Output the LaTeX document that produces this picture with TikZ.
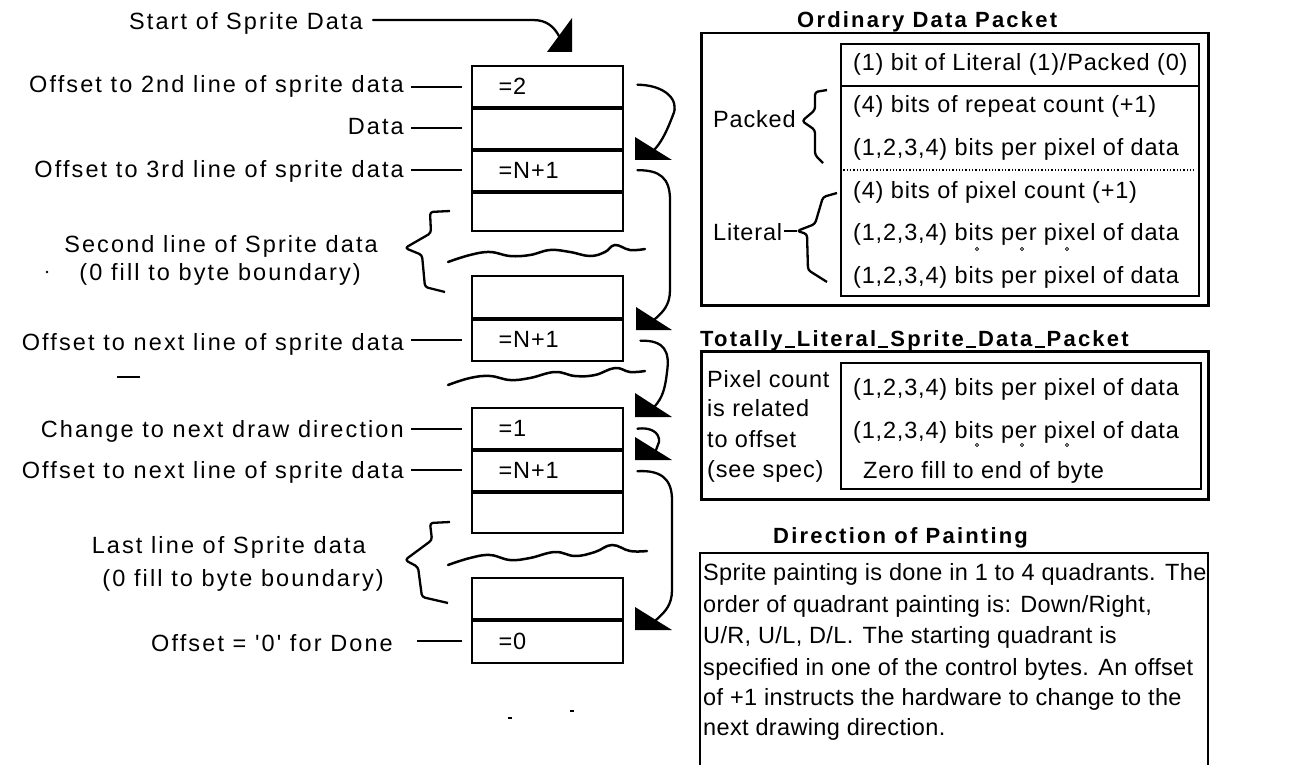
\documentclass[tikz,border=0pt]{standalone}
\usepackage{fontspec}
\setmainfont{Liberation Sans}
\newfontfamily\lblfont[LetterSpace=9]{Liberation Sans}
\newfontfamily\rfont[LetterSpace=3.5]{Liberation Sans}
\newfontfamily\dfont[LetterSpace=1.5]{Liberation Sans}
\newfontfamily\hfont[LetterSpace=10]{Liberation Sans}
\newcommand\ugap{\hspace{0.1em}\rule[-1.5pt]{0.45em}{1.4pt}\hspace{0.1em}}
\begin{document}
\begin{tikzpicture}[x=1pt,y=-1pt,
  lbl/.style={anchor=base east, inner sep=0pt, font=\lblfont\fontsize{23.5}{28}\selectfont},
  rtxt/.style={anchor=base west, inner sep=0pt, font=\rfont\fontsize{23.5}{28}\selectfont},
  dtxt/.style={anchor=base west, inner sep=0pt, font=\dfont\fontsize{23.5}{28}\selectfont},
  head/.style={anchor=base west, inner sep=0pt, font=\hfont\bfseries\fontsize{22}{26}\selectfont},
  cell/.style={draw, line width=2.4pt, minimum width=151pt, anchor=north west, inner sep=0pt,
     text width=98pt, align=left, font=\rfont\fontsize{23.5}{28}\selectfont},
  sepline/.style={line width=4pt},
  conn/.style={line width=2.3pt, line cap=round, line join=round},
  lead/.style={line width=2.3pt, shorten <=7pt, shorten >=9pt},
  brace/.style={line width=2.3pt, rounded corners=3pt, line join=round},
  wave/.style={line width=2.5pt, line cap=round},
  tip/.style={fill=black},
  frame/.style={draw, line width=2.5pt, anchor=north west, inner sep=0pt}
]
\useasboundingbox (0,0) rectangle (1301,765);

% ---------- left column cells ----------
\node[cell, minimum height=41pt] (r1) at (471,65) {=2};
\node[cell, minimum height=42pt] (r2) at (471,106) {};
\node[cell, minimum height=42pt] (r3) at (471,148) {=N+1};
\node[cell, minimum height=40pt] (r4) at (471,190) {};
\node[cell, minimum height=42pt] (r5) at (471,275) {};
\node[cell, minimum height=43pt] (r6) at (471,317) {=N+1};
\node[cell, minimum height=41pt] (r7) at (471,407) {=1};
\node[cell, minimum height=42pt] (r8) at (471,448) {=N+1};
\node[cell, minimum height=42pt] (r9) at (471,490) {};
\node[cell, minimum height=41pt] (r10) at (471,577) {};
\node[cell, minimum height=44pt] (r11) at (471,618) {=0};
\foreach \r in {r1,r2,r3,r5,r7,r8,r10}
  \draw[sepline] (\r.south west) -- (\r.south east);

% ---------- left labels ----------
\node[lbl] (lab0) at (363,30) {Start of Sprite Data};
\node[lbl] (lab1) at (404,93) {Offset to 2nd line of sprite data};
\node[lbl] (lab2) at (404,135) {Data};
\node[lbl] (lab3) at (404,178) {Offset to 3rd line of sprite data};
\node[lbl] (lab4) at (378,252) {Second line of Sprite data};
\node[lbl] (lab4b) at (361,280) {(0 fill to byte boundary)};
\node[lbl] (lab5) at (404,350) {Offset to next line of sprite data};
\node[lbl] (lab6) at (404,437) {Change to next draw direction};
\node[lbl] (lab7) at (404,478) {Offset to next line of sprite data};
\node[lbl] (lab8) at (366,553) {Last line of Sprite data};
\node[lbl] (lab8b) at (384,586) {(0 fill to byte boundary)};
\node[lbl] (lab9) at (393,651) {Offset = '0' for Done};

\draw[lead] (lab1.east |- r1.west) -- (r1.west);
\draw[lead] (lab2.east |- r2.west) -- (r2.west);
\draw[lead] (lab3.east |- r3.west) -- (r3.west);
\draw[lead] (lab5.east |- r6.west) -- (r6.west);
\draw[lead] (lab6.east |- r7.west) -- (r7.west);
\draw[lead] (lab7.east |- r8.west) -- (r8.west);
\draw[lead, shorten <=24pt] (lab9.east |- r11.west) -- (r11.west);

% stray marks
\fill (47,272) circle (1.3pt);
\draw[line width=1.6pt] (117,377) -- (140,377);
\draw[line width=1.4pt] (508,718) -- (512,718);
\draw[line width=1.4pt] (570,711) -- (574,711);

% ---------- braces ----------
\draw[brace] (450,211) -- (430,212) -- (431,233) -- (405,248) -- (422,255) -- (425,287) -- (445,292);
\draw[brace] (450,522) -- (430,523) -- (432,540) -- (405,560) -- (418,567) -- (422,597) -- (448,603);

% ---------- waves ----------
\draw[wave] plot[smooth, tension=0.7] coordinates {(448,262) (470,255) (490,252) (510,256) (530,255) (550,250) (570,252) (590,256) (605,252) (615,245) (630,250) (645,249)};
\draw[wave] plot[smooth, tension=0.7] coordinates {(448,385) (470,378) (490,376) (510,380) (530,378) (555,372) (575,376) (595,375) (615,368) (630,372) (645,371)};
\draw[wave] plot[smooth, tension=0.7] coordinates {(448,565) (470,558) (490,555) (510,560) (530,558) (555,552) (575,556) (595,552) (612,545) (630,551) (647,551)};

% ---------- arrowheads ----------
\fill[tip] (547,52) -- (572,52) -- (572,18) -- cycle;
\fill[tip] (635,137) -- (635,160) -- (672,160) -- cycle;
\fill[tip] (636,307) -- (636,330) -- (672,330) -- cycle;
\fill[tip] (635,393) -- (635,417) -- (672,417) -- cycle;
\fill[tip] (635,437) -- (635,460) -- (672,460) -- cycle;
\fill[tip] (635,607) -- (635,630) -- (672,630) -- cycle;
\coordinate (h0) at (559,36);
\coordinate (h1) at (655,149);
\coordinate (h2) at (655,319);
\coordinate (h3) at (655,406);
\coordinate (h4) at (656,450);
\coordinate (h5) at (656,620);
\coordinate (s0) at (533,20);

% ---------- connectors ----------
\draw[conn] ([xshift=10pt,yshift=4pt]lab0.east) -- (s0) .. controls (547,20) and (554,27) .. (h0);
\draw[conn] ([xshift=13pt,yshift=2pt]r1.east) .. controls (665,85) and (680,100) .. (673,115) .. controls (668,128) and (663,140) .. (h1);
\draw[conn] ([xshift=13pt,yshift=0pt]r3.east) .. controls (660,170) and (670,178) .. (670,200) -- (670,290) .. controls (670,305) and (663,312) .. (h2);
\draw[conn] ([xshift=16pt,yshift=-1pt]r6.east) .. controls (665,340) and (670,352) .. (667,372) .. controls (665,390) and (662,398) .. (h3);
\draw[conn] ([xshift=13pt,yshift=0pt]r7.east) .. controls (650,427) and (660,432) .. (659,442) -- (h4);
\draw[conn] ([xshift=13pt,yshift=-1pt]r8.east) .. controls (660,470) and (672,478) .. (672,500) -- (672,590) .. controls (672,605) and (665,612) .. (h5);

% ---------- Ordinary Data Packet ----------
\node[head] (hodp) at (797,28) {Ordinary Data Packet};
\node[frame, minimum width=507pt, minimum height=272pt] (odp) at (700,32) {};
\node[draw, line width=2.2pt, anchor=north west, inner sep=0pt, minimum width=358pt, minimum height=252pt] (odpin) at (840,43) {};
\draw[line width=2.2pt] (odpin.west |- 0,86) -- (1200,86);
\draw[line width=1.3pt, dotted] (odpin.west |- 0,170) -- (1196,170);
\node[rtxt] (o1) at (853,71) {(1) bit of Literal (1)/Packed (0)};
\node[rtxt] (o2) at (853,113) {(4) bits of repeat count (+1)};
\node[rtxt] (o3) at (853,155) {(1,2,3,4) bits per pixel of data};
\node[rtxt] (o4) at (853,198) {(4) bits of pixel count (+1)};
\node[rtxt] (o5) at (853,240) {(1,2,3,4) bits per pixel of data};
\node[rtxt] (o6) at (853,283) {(1,2,3,4) bits per pixel of data};
\foreach \x in {977,1022,1067} \draw[line width=0.8pt] (\x,249) circle (1.6pt);
\node[rtxt] (pk) at (713,128) {Packed};
\node[rtxt] (lt) at (713,240) {Literal};
\draw[brace] (827,90) -- (815,92) -- (815,110) -- (802,121) -- (815,130) -- (815,155) -- (823,163);
\draw[brace] (837,193) -- (823,197) -- (815,224) -- (797,231) -- (807,234) -- (808,270) -- (827,282);
\draw[line width=2.2pt] (lt.east |- 0,231) ++(2,0) -- (797,231);

% ---------- Totally Literal Sprite Data Packet ----------
\node[head] (htl) at (700,346) {Totally\ugap Literal\ugap Sprite\ugap Data\ugap Packet};
\node[frame, minimum width=507pt, minimum height=148pt] (tl) at (700,350) {};
\node[draw, line width=2.2pt, anchor=north west, inner sep=0pt, minimum width=360pt, minimum height=126pt] (tlin) at (840,362) {};
\node[rtxt] (p1) at (707,387) {Pixel count};
\node[rtxt] (p2) at (707,416) {is related};
\node[rtxt] (p3) at (707,447) {to offset};
\node[rtxt] (p4) at (707,477) {(see spec)};
\node[rtxt] (t1) at (853,395) {(1,2,3,4) bits per pixel of data};
\node[rtxt] (t2) at (853,438) {(1,2,3,4) bits per pixel of data};
\foreach \x in {977,1022,1067} \draw[line width=0.8pt] (\x,445) circle (1.6pt);
\node[rtxt] (t3) at (863,478) {Zero fill to end of byte};

% ---------- Direction of Painting ----------
\node[head] (hdir) at (773,543) {Direction of Painting};
\draw[line width=2.5pt] (700,775) -- (700,553) -- (1208,553) -- (1208,775);
\foreach \t/\yy [count=\i] in {{Sprite painting is done in 1 to 4 quadrants.\hspace{0.4em}The}/580,
   {order of quadrant painting is: Down/Right,}/612,
   {U/R, U/L, D/L.\hspace{0.4em}The starting quadrant is}/643,
   {specified in one of the control bytes.\hspace{0.4em}An offset}/675,
   {of +1 instructs the hardware to change to the}/705,
   {next drawing direction.}/735}
  \node[dtxt] (d\i) at (703,\yy) {\t};
\end{tikzpicture}
\end{document}
